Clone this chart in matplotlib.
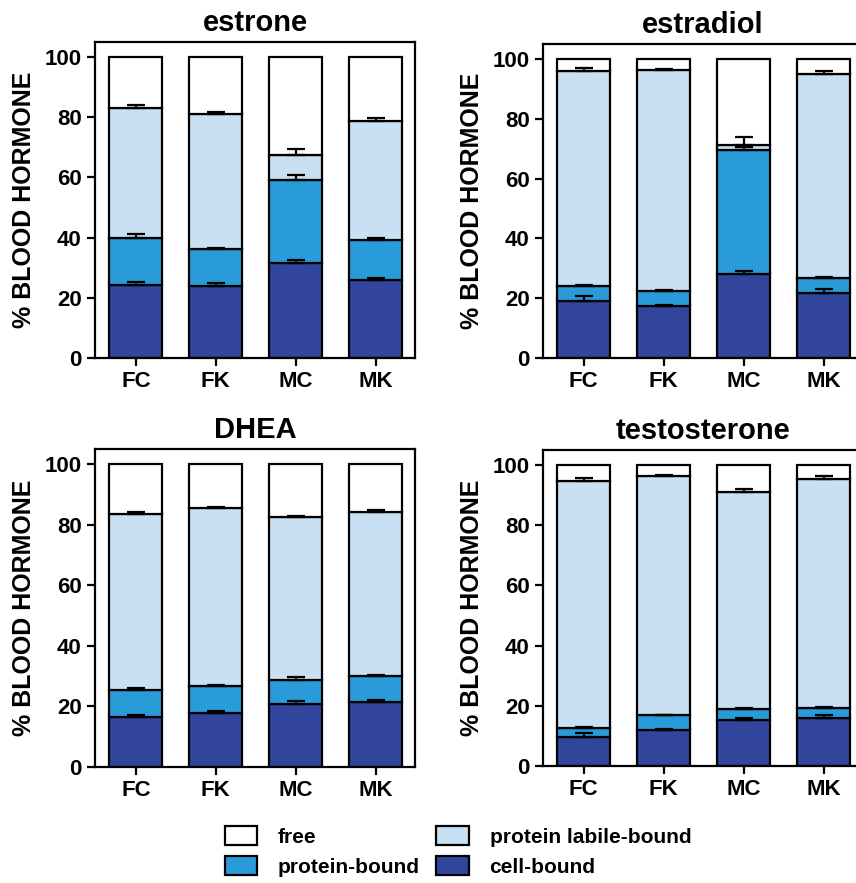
import numpy as np
import matplotlib
matplotlib.use("Agg")
from matplotlib import pyplot as plt
from matplotlib.patches import Patch

plt.rcParams['font.family'] = ['Liberation Sans', 'DejaVu Sans']
plt.rcParams['font.weight'] = 'bold'

groups = ["FC", "FK", "MC", "MK"]
hormones = ["estrone", "estradiol", "DHEA", "testosterone"]

# segment percentages, bottom to top: cell-bound, protein-bound, protein labile-bound (free = rest)
estrone_cell = [24.3, 23.8, 31.5, 26.0]
estrone_prot = [15.5, 12.4, 27.6, 13.2]
estrone_labile = [43.3, 45.0, 8.3, 39.6]
estrone_err = [[1.1, 1.0, 1.1, 0.7], [1.3, 0.3, 1.7, 0.7], [1.0, 0.6, 2.0, 1.0]]

estradiol_cell = [19.2, 17.3, 28.2, 21.7]
estradiol_prot = [4.8, 5.1, 41.5, 5.1]
estradiol_labile = [71.9, 74.0, 1.6, 68.0]
estradiol_err = [[1.4, 0.5, 0.8, 1.2], [0.5, 0.2, 1.0, 0.2], [0.9, 0.3, 2.5, 1.1]]

dhea_cell = [16.5, 17.8, 20.9, 21.4]
dhea_prot = [9.0, 8.9, 7.9, 8.5]
dhea_labile = [58.0, 58.8, 53.6, 54.2]
dhea_err = [[0.8, 0.6, 0.9, 0.6], [0.7, 0.4, 0.9, 0.5], [0.6, 0.4, 0.5, 0.7]]

testo_cell = [9.7, 11.9, 15.4, 15.8]
testo_prot = [3.0, 5.0, 3.7, 3.6]
testo_labile = [82.0, 79.4, 71.9, 76.0]
testo_err = [[1.1, 0.5, 0.6, 1.1], [0.3, 0.2, 0.3, 0.3], [1.0, 0.3, 1.1, 0.8]]

data = {
    "estrone": (estrone_cell, estrone_prot, estrone_labile, estrone_err),
    "estradiol": (estradiol_cell, estradiol_prot, estradiol_labile, estradiol_err),
    "DHEA": (dhea_cell, dhea_prot, dhea_labile, dhea_err),
    "testosterone": (testo_cell, testo_prot, testo_labile, testo_err),
}

c_free = "white"
c_labile = "#c8e0f1"
c_prot = "#289bd8"
c_cell = "#31459d"

fig = plt.figure(figsize=(8.56, 8.83), dpi=100)
positions = [
    [0.111, 0.5946, 0.3738, 0.3578],
    [0.6343, 0.5946, 0.3738, 0.3556],
    [0.111, 0.1314, 0.3738, 0.3601],
    [0.6343, 0.1325, 0.3738, 0.3579],
]

x = np.arange(len(groups))
w = 0.66

for name, pos in zip(hormones, positions):
    ax = fig.add_axes(pos)
    cell, prot, labile, err = data[name]
    cell = np.array(cell)
    prot = np.array(prot)
    labile = np.array(labile)
    free = 100 - cell - prot - labile
    b1 = cell
    b2 = b1 + prot
    b3 = b2 + labile
    kw = dict(width=w, edgecolor="black", linewidth=1.6, zorder=2)
    ax.bar(x, cell, color=c_cell, **kw)
    ax.bar(x, prot, bottom=b1, color=c_prot, **kw)
    ax.bar(x, labile, bottom=b2, color=c_labile, **kw)
    ax.bar(x, free, bottom=b3, color=c_free, **kw)
    for top, e in zip([b1, b2, b3], err):
        e = np.array(e)
        ax.errorbar(x, top, yerr=[np.zeros_like(e), e], fmt="none", ecolor="black",
                    elinewidth=1.6, capsize=6.5, capthick=1.6, zorder=3)
    ax.set_xlim(-0.51, 3.49)
    ax.set_ylim(0, 105)
    ax.set_yticks([0, 20, 40, 60, 80, 100])
    ax.set_xticks(x)
    ax.set_xticklabels(groups)
    ax.tick_params(labelsize=16, width=1.6, length=6, direction="out")
    for s in ax.spines.values():
        s.set_linewidth(1.6)
    ax.set_ylabel("% BLOOD HORMONE", fontsize=18, fontweight="bold", labelpad=6)
    ax.set_title(name, fontsize=21, fontweight="bold", pad=8)

handles = [
    Patch(facecolor=c_free, edgecolor="black", linewidth=1.6, label="free"),
    Patch(facecolor=c_prot, edgecolor="black", linewidth=1.6, label="protein-bound"),
    Patch(facecolor=c_labile, edgecolor="black", linewidth=1.6, label="protein labile-bound"),
    Patch(facecolor=c_cell, edgecolor="black", linewidth=1.6, label="cell-bound"),
]
fig.legend(handles=handles, ncol=2, loc="center", bbox_to_anchor=(0.535, 0.036),
           frameon=False, fontsize=15, handlelength=1.55, handleheight=1.05,
           labelspacing=0.45, columnspacing=0.8, handletextpad=1.0)

fig.savefig("out.png", dpi=100)
